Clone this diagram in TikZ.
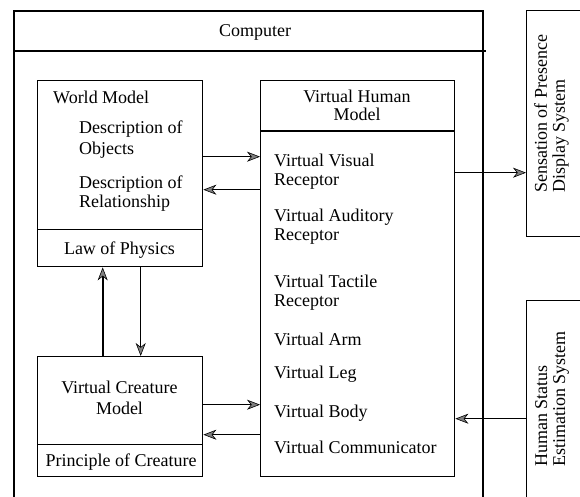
\documentclass[tikz,border=0pt]{standalone}
\usepackage{fontspec}
\setmainfont{Liberation Serif}
\usetikzlibrary{arrows.meta}
\begin{document}
\begin{tikzpicture}[x=1pt,y=-1pt,
  outer/.style={draw, line width=1.6pt, inner sep=0pt, anchor=north west},
  box/.style={draw, line width=1.4pt, inner sep=0pt, anchor=north west},
  txt/.style={inner sep=0pt, anchor=base west, font=\fontsize{18}{19}\selectfont},
  ctxt/.style={txt, anchor=base},
  vtxt/.style={inner sep=0pt, rotate=90, anchor=north west, align=left,
               font=\fontsize{18}{18}\selectfont},
  arr/.style={line width=1.1pt,
              -{Stealth[length=13pt,width=10pt,inset=4pt,line width=0.6pt,fill=black!50]}}]
  \useasboundingbox (0,0) rectangle (580,497);
  \clip (0,0) rectangle (580,497);

  % computer frame with its title band
  \node[outer, minimum width=469pt, minimum height=510pt] (comp) at (13,10) {};
  \draw[line width=1.6pt] ([yshift=-41pt]comp.north west) -- ([yshift=-41pt,xshift=2pt]comp.north east);
  \node[ctxt] (t-comp) at (255,37) {Computer};

  % world model
  \node[box, minimum width=165pt, minimum height=186pt] (wm) at (37,80) {};
  \draw[line width=1.4pt] ([yshift=38pt]wm.south west) -- ([yshift=38pt]wm.south east);
  \node[txt] (t-wm) at (53,104) {World Model};
  \node[txt] (t-d1) at (79,134) {Description of};
  \node[txt] (t-ob) at (79,154) {Objects};
  \node[txt] (t-d2) at (79,188) {Description of};
  \node[txt] (t-re) at (79,207) {Relationship};
  \node[ctxt] (t-law) at (119.5,254) {Law of Physics};

  % virtual creature model
  \node[box, minimum width=165pt, minimum height=120pt] (vc) at (37,356) {};
  \draw[line width=1.4pt] ([yshift=33pt]vc.south west) -- ([yshift=33pt]vc.south east);
  \node[ctxt] (t-vc1) at (119.5,393) {Virtual Creature};
  \node[ctxt] (t-vc2) at (119.5,414) {Model};
  \node[ctxt] (t-pc) at (121,466) {Principle of Creature};

  % virtual human model
  \node[box, minimum width=194pt, minimum height=396pt] (vh) at (260,80) {};
  \draw[line width=1.4pt] ([yshift=-51pt]vh.north west) -- ([yshift=-51pt]vh.north east);
  \node[ctxt] (t-vh1) at (357,103) {Virtual Human};
  \node[ctxt] (t-vh2) at (357,121) {Model};
  \node[txt] (i1) at (274,166) {Virtual Visual};
  \node[txt] (i2) at (274,185) {Receptor};
  \node[txt] (i3) at (274,221) {Virtual Auditory};
  \node[txt] (i4) at (274,240) {Receptor};
  \node[txt] (i5) at (274,287) {Virtual Tactile};
  \node[txt] (i6) at (274,306) {Receptor};
  \node[txt] (i7) at (274,345) {Virtual Arm};
  \node[txt] (i8) at (274,378) {Virtual Leg};
  \node[txt] (i9) at (274,417) {Virtual Body};
  \node[txt] (i10) at (274,453) {Virtual Communicator};

  % external systems
  \node[box, minimum width=80pt, minimum height=226pt] (sp) at (526,10) {};
  \node[vtxt] (t-sp) at (534,193) {Sensation of Presence\\Display System};
  \node[box, minimum width=80pt, minimum height=220pt] (hs) at (526,300) {};
  \node[vtxt] (t-hs) at (535,467) {Human Status\\Estimation System};

  % connectors
  \draw[arr] ([yshift=17pt]wm.east) coordinate (p1) -- (p1 -| vh.west);
  \draw[arr] ([yshift=-16pt]wm.east -| vh.west) coordinate (p2) -- (p2 -| wm.east);
  \draw[arr] ([yshift=12pt]vc.east) coordinate (p3) -- (p3 -| vh.west);
  \draw[arr] ([yshift=-18pt]vc.east -| vh.west) coordinate (p4) -- (p4 -| vc.east);
  \draw[arr, line width=1.6pt] ([xshift=-17.5pt]vc.north) coordinate (p5) -- (p5 |- wm.south);
  \draw[arr] ([xshift=20.5pt]wm.south) coordinate (p6) -- (p6 |- vc.north);
  \draw[arr] ([yshift=106pt]vh.east) coordinate (p7) -- (p7 -| sp.west);
  \draw[arr] ([yshift=-140pt]vh.east -| hs.west) coordinate (p8) -- (p8 -| vh.east);
\end{tikzpicture}
\end{document}
